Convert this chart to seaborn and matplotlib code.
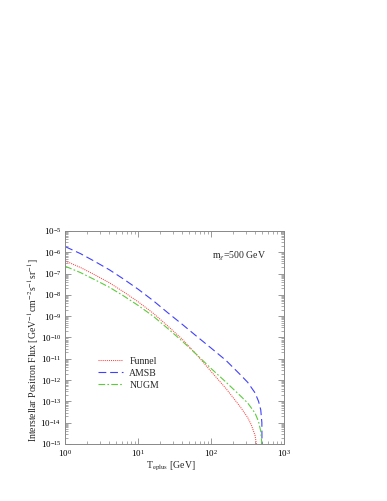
import numpy as np
import matplotlib
matplotlib.use("Agg")
import matplotlib.pyplot as plt
import matplotlib.ticker as mticker
import seaborn as sns
import pandas as pd

# positron flux curves (T in GeV, flux as log10)
t_funnel = [1, 1.6, 2.5, 4, 6.3, 10, 16, 25, 40, 63, 100, 160, 250, 316, 355, 400, 417, 447]
lf_funnel = [-6.41, -6.71, -7.05, -7.43, -7.86, -8.33, -8.86, -9.44, -10.08, -10.8,
             -11.6, -12.4, -13.25, -13.75, -14.1, -14.6, -15.0, -15.6]

t_amsb = [1, 1.6, 2.5, 4, 6.3, 10, 16, 25, 40, 63, 100, 160, 250, 316, 400, 447, 479, 496, 500]
lf_amsb = [-5.74, -6.06, -6.42, -6.82, -7.26, -7.74, -8.27, -8.82, -9.38, -9.94,
           -10.5, -11.08, -11.74, -12.1, -12.6, -13.0, -13.4, -14.0, -16.0]

t_nugm = [1, 1.6, 2.5, 4, 6.3, 10, 16, 25, 40, 63, 100, 160, 250, 316, 400, 447, 479, 496, 500]
lf_nugm = [-6.66, -6.95, -7.28, -7.64, -8.05, -8.5, -9.0, -9.56, -10.17, -10.8,
           -11.46, -12.1, -12.73, -13.07, -13.55, -13.95, -14.4, -15.0, -16.0]

labels = ["Funnel", "AMSB", "NUGM"]

sns.set_theme(style="ticks")
plt.rcParams['font.family'] = ['Liberation Serif', 'DejaVu Serif']
plt.rcParams['mathtext.fontset'] = 'stix'

fig = plt.figure(figsize=(3.87, 5.01), dpi=100)
ax = fig.add_axes([0.169, 0.1138, 0.565, 0.4252])

series = [
    (t_funnel, lf_funnel, "#ff4444", (0, (1, 1)), 0.75),
    (t_amsb, lf_amsb, "#4040ff", (0, (7, 3.5)), 0.8),
    (t_nugm, lf_nugm, "#5ccc3c", (0, (6, 2, 1.5, 2)), 0.8),
]
for (t, lf, col, ls, lw), lab in zip(series, labels):
    df = pd.DataFrame({"T": t, "flux": 10.0 ** np.array(lf)})
    sns.lineplot(data=df, x="T", y="flux", ax=ax, color=col, linestyle=ls,
                 linewidth=lw, label=lab, sort=False, estimator=None)

ax.set_xscale("log")
ax.set_yscale("log")
ax.set_xlim(1, 1000)
ax.set_ylim(1e-15, 1e-5)

ax.yaxis.set_major_locator(mticker.LogLocator(base=10, numticks=20))
ax.yaxis.set_minor_locator(mticker.LogLocator(base=10, subs=np.arange(2, 10), numticks=20))
ax.yaxis.set_minor_formatter(mticker.NullFormatter())
ax.xaxis.set_minor_locator(mticker.LogLocator(base=10, subs=np.arange(2, 10), numticks=20))
ax.xaxis.set_minor_formatter(mticker.NullFormatter())

ax.tick_params(which="both", direction="in", top=True, right=True, colors="#888888",
               labelcolor="black", labelsize=6.5, pad=3)
ax.tick_params(which="major", length=4, width=0.6)
ax.tick_params(which="minor", length=2, width=0.5)
for s in ax.spines.values():
    s.set_color("#888888")
    s.set_linewidth(0.7)

ax.set_xlabel(r"T$_{\rm eplus}$ [GeV]", fontsize=7, labelpad=4)
ax.set_ylabel(r"Interstellar Positron Flux [GeV$^{-1}$cm$^{-2}$s$^{-1}$sr$^{-1}$]",
              fontsize=7, labelpad=4)
ax.yaxis.set_label_coords(-0.11, 0.44)
ax.xaxis.set_label_coords(0.48, -0.075)

ax.text(0.67, 0.88, r"m$_\chi$=500 GeV", transform=ax.transAxes, fontsize=7,
        va="center", ha="left")

ax.legend(loc="upper left", bbox_to_anchor=(0.11, 0.45), frameon=False, fontsize=7,
          handlelength=2.6, handletextpad=0.6, labelspacing=0.3)

fig.savefig("out.png", dpi=100)
